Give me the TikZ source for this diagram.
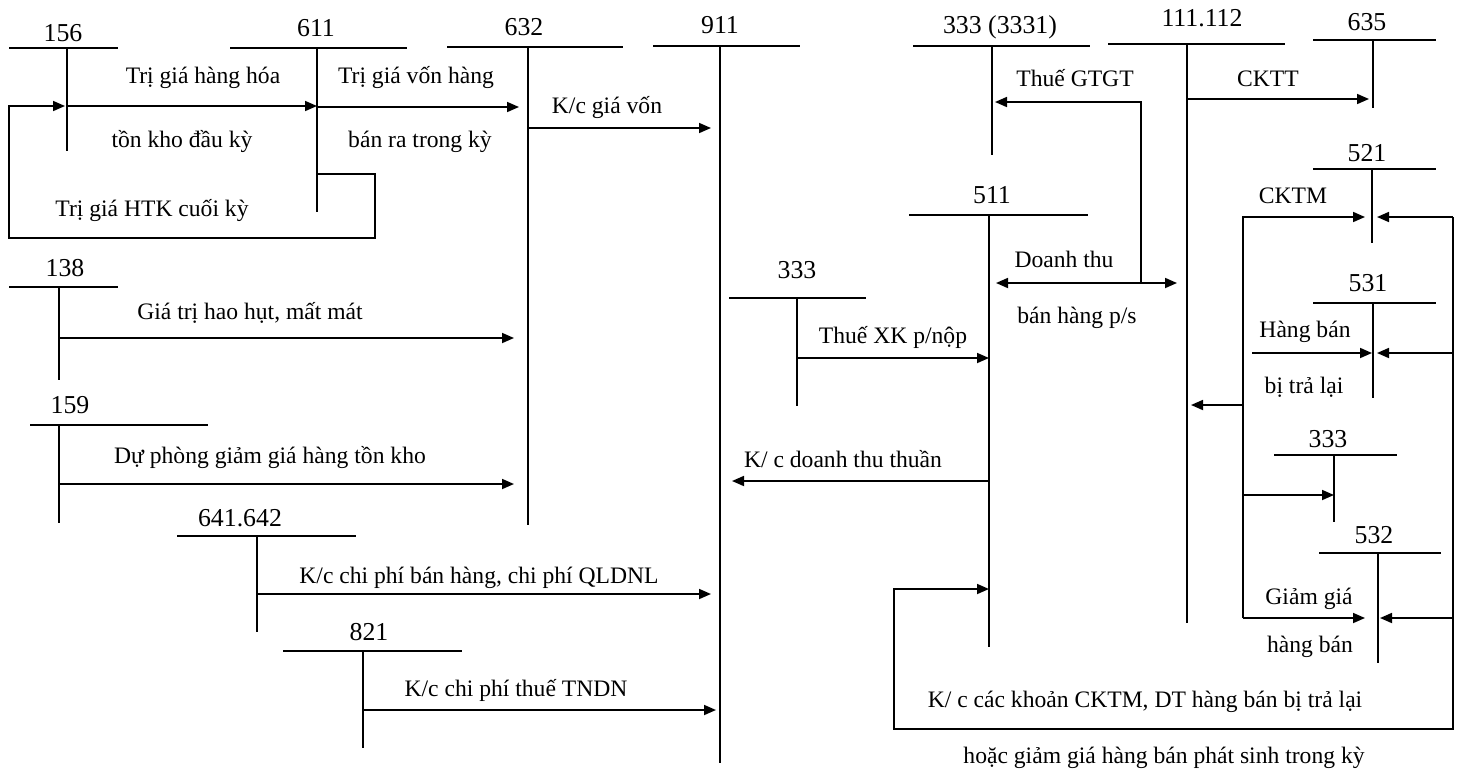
\documentclass[tikz,border=0pt]{standalone}
\usepackage{fontspec}
\setmainfont{Liberation Serif}
\usepackage{tikz}
\usetikzlibrary{arrows.meta}

\tikzset{
	accnum/.style={font=\fontsize{12.9}{14}\selectfont, inner sep=0pt, anchor=base},
	txt/.style={font=\fontsize{11.8}{13}\selectfont, inner sep=0pt, anchor=base},
	tline/.style={line width=0.65pt},
	flow/.style={line width=0.85pt, -{Triangle[length=6pt,width=5pt]}},
	flowboth/.style={line width=0.85pt, {Triangle[length=6pt,width=5pt]}-{Triangle[length=6pt,width=5pt]}},
}

% T account: name, number, number position, bar left, bar right, bar y, stem x, stem end
\newcommand{\taccount}[8]{%
	\node[accnum] (#1) at (#3) {#2};
	\coordinate (#1v) at (#7,#6);
	\coordinate (#1e) at (#7,#8);
	\draw[tline] (#4,#6) -- (#5,#6);
	\draw[tline] (#1v) -- (#1e);
}

\begin{document}
\begin{tikzpicture}[x=0.5pt, y=-0.5pt]
			\useasboundingbox (0,0) rectangle (1461,772);
			% Accounts:
			\taccount{a156}{156}{63,41.5}{9}{118}{48}{67}{151}
			\taccount{a611}{611}{316,36.5}{230}{407}{48}{317}{212}
			\taccount{a632}{632}{524,35.5}{447}{623}{47}{528}{525}
			\taccount{a911}{911}{720,33.5}{653}{800}{46}{720}{763}
			\taccount{a3331}{333 (3331)}{1000,33.5}{913}{1090}{46}{992}{155}
			\taccount{a111}{111.112}{1202,26.5}{1108}{1285}{44}{1187}{623}
			\taccount{a635}{635}{1367,30.5}{1313}{1436}{40}{1373}{108}
			\taccount{a511}{511}{992,203.5}{909}{1088}{215}{989}{647}
			\taccount{a521}{521}{1367,161.5}{1313}{1436}{169}{1372}{243}
			\taccount{a531}{531}{1368,291.5}{1313}{1436}{303}{1373}{398}
			\taccount{a333b}{333}{1328,447.5}{1274}{1397}{455}{1334}{522}
			\taccount{a532}{532}{1374,543.5}{1319}{1441}{553}{1378}{663}
			\taccount{a333m}{333}{797,278.5}{729}{866}{298}{797}{406}
			\taccount{a138}{138}{65,276.5}{9}{118}{287}{59}{380}
			\taccount{a159}{159}{70,413.5}{30}{208}{425}{59}{523}
			\taccount{a641}{641.642}{240,526.5}{177}{356}{536}{257}{632}
			\taccount{a821}{821}{369,640.5}{283}{462}{651}{363}{748}
			% Corners of the loops:
			\coordinate (htkA) at (375,238);
			\coordinate (htkB) at (9,238);
			\coordinate (gtgt) at (1141,283);
			\coordinate (rtop) at (1453,217);
			\coordinate (rbot) at (1453,729);
			\coordinate (lbot) at (894,729);
			\coordinate (ltop) at (894,589);
			\coordinate (ktop) at (1243,217);
			\coordinate (kbot) at (1243,618);
			\coordinate (hbstart) at (1252,353);
			% Left side:
			\draw[flow] (a156v |- 0,106) -- (a611v |- 0,106);
			\draw[flow, shorten >=1pt] (a611v |- 0,174) -| (htkA) -- (htkB) |- (a156v |- 0,106);
			\draw[flow, shorten >=4.5pt] (a611v |- 0,107) -- (a632v |- 0,107);
			\draw[flow, shorten >=4.5pt] (a632v |- 0,128) -- (a911v |- 0,128);
			\draw[flow, shorten >=7pt] (a138v |- 0,338) -- (a632v |- 0,338);
			\draw[flow, shorten >=7pt] (a159v |- 0,484) -- (a632v |- 0,484);
			\draw[flow, shorten >=4.5pt] (a641v |- 0,594) -- (a911v |- 0,594);
			\draw[flow, shorten >=2pt] (a821v |- 0,710) -- (a911v |- 0,710);
			\node[txt] (lHH) at (203,83) {Trị giá hàng hóa};
			\node[txt] (lTK) at (182,147) {tồn kho đầu kỳ};
			\node[txt] (lHTK) at (152,216) {Trị giá HTK cuối kỳ};
			\node[txt] (lVH) at (416,83) {Trị giá vốn hàng};
			\node[txt] (lBR) at (420,147) {bán ra trong kỳ};
			\node[txt] (lGV) at (607,113) {K/c giá vốn};
			\node[txt] (lHao) at (250,319) {Giá trị hao hụt, mất mát};
			\node[txt] (lDP) at (270,463) {Dự phòng giảm giá hàng tồn kho};
			\node[txt] (lCPBH) at (479,583) {K/c chi phí bán hàng, chi phí QLDNL};
			\node[txt] (lTNDN) at (516,696) {K/c chi phí thuế TNDN};
			% Middle:
			\draw[flow] (a333mv |- 0,358) -- (a511v |- 0,358);
			\draw[flow, shorten >=6pt] (a511v |- 0,481) -- (a911v |- 0,481);
			\draw[flow, shorten >=1.5pt] (gtgt) |- (a3331v |- 0,102);
			\draw[flowboth, shorten <=3.5pt, shorten >=5pt] (a511v |- gtgt) -- (a111v |- gtgt);
			\draw[flow, shorten >=2pt] (a111v |- 0,99) -- (a635v |- 0,99);
			\node[txt] (lXK) at (893,343) {Thuế XK p/nộp};
			\node[txt] (lDTT) at (843,467) {K/ c doanh thu thuần};
			\node[txt] (lGTGT) at (1075,86) {Thuế GTGT};
			\node[txt] (lDT) at (1064,267) {Doanh thu};
			\node[txt] (lBH) at (1077,323) {bán hàng p/s};
			\node[txt] (lCKTT) at (1268,86) {CKTT};
			% Right side:
			\draw[flow, shorten >=3.5pt] (kbot) -- (ktop) -- (a521v |- ktop);
			\draw[flow, shorten >=6.5pt] (kbot) -- (a532v |- kbot);
			\draw[flow, shorten >=2pt] (ktop |- 0,405) -- (a111v |- 0,405);
			\draw[flow] (ktop |- 0,495) -- (a333bv |- 0,495);
			\draw[flow, shorten >=0.5pt] (hbstart) -- (a531v |- hbstart);
			\draw[flow] (rtop) -- (rbot) -- (lbot) -- (ltop) -- (a511v |- ltop);
			\draw[flow, shorten >=2.5pt] (rtop) -- (a521v |- rtop);
			\draw[flow, shorten >=2pt] (rtop |- hbstart) -- (a531v |- hbstart);
			\draw[flow, shorten >=1pt] (rtop |- kbot) -- (a532v |- kbot);
			\node[txt] (lCKTM) at (1293,203) {CKTM};
			\node[txt] (lHB) at (1305,337) {Hàng bán};
			\node[txt] (lTL) at (1304,393) {bị trả lại};
			\node[txt] (lGG) at (1309,604) {Giảm giá};
			\node[txt] (lHB2) at (1310,652) {hàng bán};
			\node[txt] (lKC1) at (1145,707) {K/ c các khoản CKTM, DT hàng bán bị trả lại};
			\node[txt] (lKC2) at (1164,763) {hoặc giảm giá hàng bán phát sinh trong kỳ};
		\end{tikzpicture}
\end{document}
